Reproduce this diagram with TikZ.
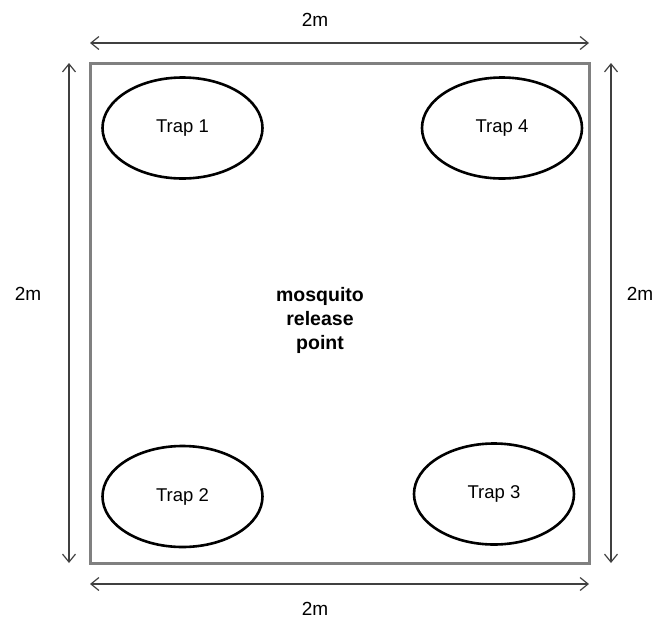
\documentclass[tikz,border=0pt]{standalone}
\usepackage{fontspec}
\setmainfont{Liberation Sans}
\usetikzlibrary{shapes.geometric,arrows.meta}
\begin{document}
\begin{tikzpicture}[x=1pt,y=-1pt,
  field/.style={draw=black!50,line width=3pt,minimum width=499pt,minimum height=500pt,inner sep=0pt},
  trap/.style={ellipse,draw=black,line width=2.6pt,minimum width=160pt,minimum height=101pt,inner sep=0pt,
    font=\fontsize{18.5}{22}\selectfont},
  dim/.style={draw=black!75,line width=1.2pt,{Straight Barb[length=8pt,width=13pt,line width=1.2pt]}-{Straight Barb[length=8pt,width=13pt,line width=1.2pt]}},
  dimlabel/.style={font=\fontsize{19}{22}\selectfont,inner sep=0pt},
  centrelabel/.style={font=\fontsize{19.5}{24}\selectfont\bfseries,align=center,inner sep=0pt}]
  \useasboundingbox (0,0) rectangle (670,627);

  % the 2m x 2m enclosure
  \node[field] (box) at (339.5,313) {};

  % the four traps
  \node[trap] (t1) at (182.5,128) {Trap 1};
  \node[trap] (t4) at (502,128) {Trap 4};
  \node[trap] (t2) at (182.5,496.5) {Trap 2};
  \node[trap] (t3) at (494,494) {Trap 3};

  \node[centrelabel] (rel) at (320,320) {mosquito\\release\\point};

  % dimension arrows
  \coordinate (topL) at (90,43);   \coordinate (topR) at (589,43);
  \coordinate (botL) at (90,584);  \coordinate (botR) at (589,584);
  \coordinate (lefT) at (69,63);   \coordinate (lefB) at (69,563);
  \coordinate (rigT) at (611,63);  \coordinate (rigB) at (611,563);
  \draw[dim] (topL) -- (topR);
  \draw[dim] (botL) -- (botR);
  \draw[dim] (lefT) -- (lefB);
  \draw[dim] (rigT) -- (rigB);

  \node[dimlabel] (ltop) at (315,20) {2m};
  \node[dimlabel] (lbot) at (315,609) {2m};
  \node[dimlabel] (llef) at (28,294) {2m};
  \node[dimlabel] (lrig) at (640,294) {2m};
\end{tikzpicture}
\end{document}
